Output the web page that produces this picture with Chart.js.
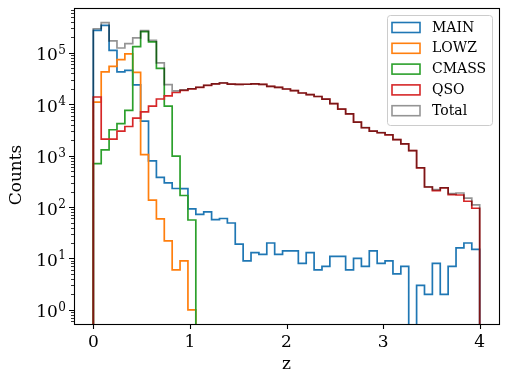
<!DOCTYPE html>
<html>
<head>
<meta charset="utf-8">
<script src="https://cdn.jsdelivr.net/npm/chart.js@4.4.1/dist/chart.umd.min.js"></script>
<style>
  html, body { margin: 0; padding: 0; background: #fff; }
  #wrap { width: 508px; height: 384px; position: relative; }
</style>
</head>
<body>
<div id="wrap"><canvas id="c"></canvas></div>
<script>
// redshift histograms, 49 bins between z=0 and z=4
const zMin = 0, zMax = 4, nBins = 49;
const binEdges = Array.from({length: nBins + 1}, (_, i) => zMin + (zMax - zMin) * i / nBins);

const mainCounts = [275000, 344000, 112000, 43000, 46000, 24000, 4700, 790, 380, 295,
  230, 228, 92, 72, 81, 57, 60, 49, 19, 9,
  13, 12, 20, 12, 14, 14, 8, 13, 6, 7,
  11, 11, 6, 10, 7, 14, 8, 9, 5, 7,
  0, 3, 2, 8, 2, 7, 16, 20, 15];
const lowzCounts = [11000, 43000, 55000, 74000, 96000, 42000, 1050, 136, 59, 22,
  6, 9, 1, 0, 0, 0, 0, 0, 0, 0,
  0, 0, 0, 0, 0, 0, 0, 0, 0, 0,
  0, 0, 0, 0, 0, 0, 0, 0, 0, 0,
  0, 0, 0, 0, 0, 0, 0, 0, 0];
const cmassCounts = [700, 1300, 3200, 4200, 7600, 133000, 260000, 165000, 50000, 9200,
  980, 168, 56, 0, 0, 0, 0, 0, 0, 0,
  0, 0, 0, 0, 0, 0, 0, 0, 0, 0,
  0, 0, 0, 0, 0, 0, 0, 0, 0, 0,
  0, 0, 0, 0, 0, 0, 0, 0, 0];
const qsoCounts = [13900, 2100, 2100, 3000, 3700, 5400, 7100, 9200, 12700, 14600,
  17000, 18700, 20000, 21400, 23400, 25000, 26000, 24700, 24500, 24600,
  25000, 24400, 22400, 21400, 19900, 18500, 16600, 15500, 14200, 12600,
  10300, 8100, 6500, 4500, 3500, 3000, 2800, 2550, 2050, 1700,
  1260, 580, 246, 210, 236, 175, 172, 130, 95];
const totalCounts = [296000, 390000, 172000, 125000, 152000, 196000, 273000, 175000, 64000, 24100,
  18200, 19100, 20100, 21500, 23500, 25100, 26100, 24700, 24500, 24600,
  25000, 24400, 22400, 21400, 19900, 18500, 16600, 15500, 14200, 12600,
  10300, 8110, 6510, 4510, 3510, 3010, 2810, 2560, 2055, 1707,
  1260, 583, 248, 218, 238, 182, 188, 150, 110];

const xTicks = [0, 1, 2, 3, 4];
const yTicks = [1, 10, 100, 1000, 10000, 100000];

const FONT = 'DejaVu Serif';
const FLOOR = 0.01; // under the axis minimum: empty bins fall out of view like in matplotlib

function stepPoints(counts) {
  const n = counts.length;
  const pts = [{x: binEdges[0], y: FLOOR}];
  counts.forEach((c, i) => pts.push({x: binEdges[i], y: c > 0 ? c : FLOOR}));
  pts.push({x: binEdges[n], y: counts[n - 1] > 0 ? counts[n - 1] : FLOOR});
  pts.push({x: binEdges[n], y: FLOOR});
  return pts;
}

const series = [
  {label: 'MAIN', counts: mainCounts, color: '#1f77b4', order: 4},
  {label: 'LOWZ', counts: lowzCounts, color: '#ff7f0e', order: 3},
  {label: 'CMASS', counts: cmassCounts, color: '#2ca02c', order: 2},
  {label: 'QSO', counts: qsoCounts, color: '#d62728', order: 1},
  {label: 'Total', counts: totalCounts, color: 'rgba(0,0,0,0.42)', order: 0},
];

// frame + matplotlib style ticks, 10^n labels, y label
const axesFrame = {
  id: 'axesFrame',
  afterDatasetsDraw(chart) {
    const {ctx, chartArea: a, scales: {x, y}} = chart;
    ctx.save();
    ctx.strokeStyle = '#000';
    ctx.lineWidth = 1.1;
    ctx.beginPath();
    xTicks.forEach(v => {
      const px = Math.round(x.getPixelForValue(v)) + 0.5;
      ctx.moveTo(px, a.bottom); ctx.lineTo(px, a.bottom + 5);
    });
    yTicks.forEach(v => {
      const py = Math.round(y.getPixelForValue(v)) + 0.5;
      ctx.moveTo(a.left, py); ctx.lineTo(a.left - 5, py);
    });
    ctx.stroke();
    ctx.lineWidth = 0.8;
    ctx.beginPath();
    for (let d = -1; d <= 5; d++) {
      for (let m = 2; m <= 9; m++) {
        const v = m * Math.pow(10, d);
        if (v < y.min || v > y.max) continue;
        const py = Math.round(y.getPixelForValue(v)) + 0.5;
        ctx.moveTo(a.left, py); ctx.lineTo(a.left - 3, py);
      }
    }
    ctx.stroke();
    ctx.lineWidth = 1.1;
    ctx.strokeRect(Math.round(a.left) + 0.5, Math.round(a.top) + 0.5,
      Math.round(a.right - a.left), Math.round(a.bottom - a.top));

    // y tick labels as 10 with a raised exponent
    ctx.fillStyle = '#000';
    ctx.textAlign = 'right';
    ctx.textBaseline = 'alphabetic';
    yTicks.forEach(v => {
      const py = y.getPixelForValue(v);
      const exp = String(Math.round(Math.log10(v)));
      const right = a.left - 8;
      ctx.font = '12px "' + FONT + '"';
      const ew = ctx.measureText(exp).width;
      ctx.fillText(exp, right, py + 1);
      ctx.font = '17px "' + FONT + '"';
      ctx.fillText('10', right - ew - 0.5, py + 7.5);
    });

    // y axis label
    ctx.translate(17, (a.top + a.bottom) / 2 + 9);
    ctx.rotate(-Math.PI / 2);
    ctx.font = '17px "' + FONT + '"';
    ctx.textAlign = 'center';
    ctx.textBaseline = 'middle';
    ctx.fillText('Counts', 0, 0);
    ctx.restore();
  }
};

// legend box in the upper right, outlined patches like histtype='step'
const stepLegend = {
  id: 'stepLegend',
  afterDraw(chart) {
    const {ctx, chartArea: a} = chart;
    const w = 105, h = 110;
    const bx = a.right - 7 - w, by = a.top + 7;
    ctx.save();
    ctx.beginPath();
    ctx.roundRect(bx + 0.5, by + 0.5, w, h, 3);
    ctx.fillStyle = 'rgba(255,255,255,0.8)';
    ctx.fill();
    ctx.strokeStyle = '#cccccc';
    ctx.lineWidth = 1;
    ctx.stroke();
    ctx.font = '14px "' + FONT + '"';
    ctx.textBaseline = 'middle';
    series.forEach((s, i) => {
      const cy = by + 12.5 + 20.8 * i;
      ctx.strokeStyle = s.color;
      ctx.lineWidth = 1.6;
      ctx.strokeRect(bx + 5, cy - 5, 28, 10);
      ctx.fillStyle = '#000';
      ctx.fillText(s.label, bx + 45, cy + 0.5);
    });
    ctx.restore();
  }
};

new Chart(document.getElementById('c'), {
  type: 'line',
  data: {
    datasets: series.map(s => ({
      label: s.label,
      data: stepPoints(s.counts),
      borderColor: s.color,
      borderWidth: 1.7,
      stepped: true,
      fill: false,
      pointRadius: 0,
      order: s.order,
    }))
  },
  options: {
    responsive: true,
    maintainAspectRatio: false,
    animation: false,
    events: [],
    layout: { padding: { top: 8, right: 9, left: 0, bottom: 9 } },
    plugins: { legend: { display: false }, tooltip: { enabled: false } },
    scales: {
      x: {
        type: 'linear', min: -0.2, max: 4.2,
        afterBuildTicks: s => { s.ticks = xTicks.map(v => ({value: v})); },
        afterFit: s => { s.height = 51; },
        ticks: { color: '#000', font: { family: FONT, size: 17 }, padding: 3, maxRotation: 0 },
        grid: { drawOnChartArea: false, drawTicks: true, tickLength: 5, tickColor: 'rgba(0,0,0,0)' },
        border: { display: false },
        title: { display: true, text: 'z', color: '#000', font: { family: FONT, size: 17 }, padding: { top: 0, bottom: 0 } },
      },
      y: {
        type: 'logarithmic', min: 0.53, max: 750000,
        afterBuildTicks: s => { s.ticks = yTicks.map(v => ({value: v})); },
        afterFit: s => { s.width = 74; },
        ticks: { display: false },
        grid: { display: false },
        border: { display: false },
      }
    }
  },
  plugins: [axesFrame, stepLegend]
});
</script>
</body>
</html>
